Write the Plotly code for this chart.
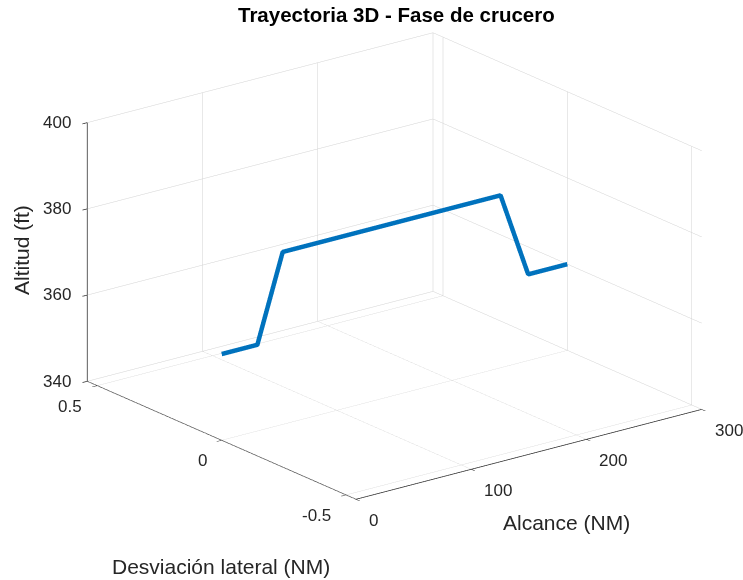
import plotly.graph_objects as go

# Cruise-phase trajectory (range NM, lateral deviation NM, altitude)
alcance = [0, 31, 53, 242, 266, 300]
desviacion = [0, 0, 0, 0, 0, 0]
altitud = [360, 360, 380, 380, 360, 360]

x_range = [0, 300]
y_range = [-0.54, 0.54]
z_range = [340, 400]
x_ticks = [0, 100, 200, 300]
y_ticks = [-0.5, 0, 0.5]
y_ticktext = ["-0.5", "0", "0.5"]
z_ticks = [340, 360, 380, 400]

W, H = 743, 580
INK = "#262626"
GRID = "#d2d2d2"
FONT = "Liberation Sans, Arial, sans-serif"
TICK_FONT = dict(family=FONT, size=17, color=INK)
LABEL_FONT = dict(family=FONT, size=21, color=INK)

fig = go.Figure(
    go.Scatter3d(
        x=alcance, y=desviacion, z=altitud,
        mode="lines",
        line=dict(color="#0072BD", width=9),
        hoverinfo="skip",
        showlegend=False,
    )
)

def axis(rng, vals):
    return dict(
        range=rng, tickvals=vals, title=dict(text=""),
        showbackground=False, gridcolor=GRID, gridwidth=1,
        showline=True, linecolor=INK, linewidth=1.5,
        ticks="outside", tickcolor=INK, ticklen=6, tickwidth=1.5,
        showticklabels=False,
        zeroline=False, showspikes=False, autorange=False,
    )

# Tick labels placed at the tick positions in data space, MATLAB-style
tick_labels = []
for v in x_ticks:
    tick_labels.append(dict(x=v, y=y_range[0], z=z_range[0], text=str(v),
                            xanchor="left", yanchor="top", xshift=11, yshift=-10))
for v, t in zip(y_ticks, y_ticktext):
    tick_labels.append(dict(x=x_range[0], y=v, z=z_range[0], text=t,
                            xanchor="right", yanchor="top", xshift=-13, yshift=-9))
for v in z_ticks:
    tick_labels.append(dict(x=x_range[0], y=y_range[1], z=v, text=str(v),
                            xanchor="right", yanchor="middle", xshift=-14, yshift=0))
for a in tick_labels:
    a.update(showarrow=False, font=TICK_FONT)

eye_dir = (-0.574, -0.746, 0.338)
r = 2.0
zoom = 1.64

fig.update_layout(
    width=W, height=H,
    margin=dict(l=0, r=0, t=0, b=0),
    paper_bgcolor="white",
    font=dict(family=FONT, color=INK),
    scene=dict(
        domain=dict(x=[0.062, 1.0], y=[0.083, 1.0]),
        xaxis=axis(x_range, x_ticks),
        yaxis=axis(y_range, y_ticks),
        zaxis=axis(z_range, z_ticks),
        aspectmode="manual",
        aspectratio=dict(x=1 * zoom, y=1.01 * zoom, z=0.63 * zoom),
        camera=dict(
            eye=dict(x=eye_dir[0] * r, y=eye_dir[1] * r, z=eye_dir[2] * r),
            center=dict(x=0, y=0, z=0),
            up=dict(x=0, y=0, z=1),
            projection=dict(type="orthographic"),
        ),
        annotations=tick_labels,
    ),
    annotations=[
        dict(text="<b>Trayectoria 3D - Fase de crucero</b>", x=396 / W, y=1 - 14 / H,
             font=dict(family=FONT, size=20.5, color="#000000")),
        dict(text="Alcance (NM)", x=566 / W, y=1 - 522 / H, font=LABEL_FONT),
        dict(text="Desviación lateral (NM)", x=221 / W, y=1 - 566 / H, font=LABEL_FONT),
        dict(text="Altitud (ft)", x=22 / W, y=1 - 250 / H, textangle=-90, font=LABEL_FONT),
    ],
)
fig.update_annotations(xref="paper", yref="paper", showarrow=False,
                       xanchor="center", yanchor="middle")

fig.write_html("out.html")
